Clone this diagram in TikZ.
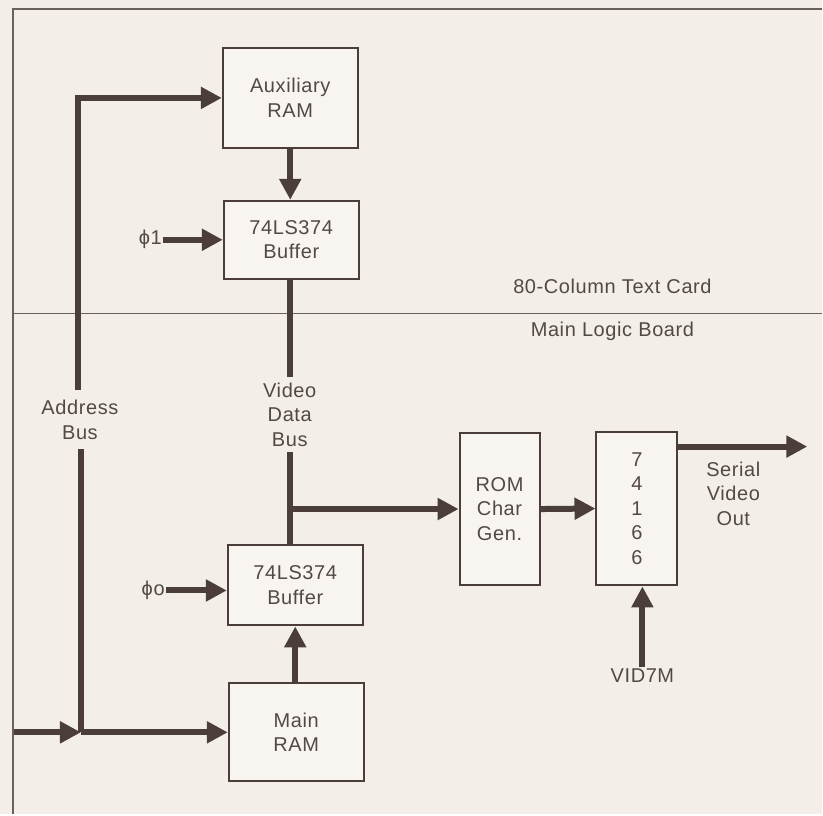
\documentclass[tikz,border=0pt]{standalone}
\usepackage{fontspec}
\setmainfont{Liberation Sans}[LetterSpace=3]
\usepackage{tikz}
\usetikzlibrary{arrows.meta,positioning,calc}
\definecolor{PaperTone}{HTML}{F3EEE7}
\definecolor{BoxTone}{HTML}{F8F5F0}
\definecolor{InkLine}{HTML}{4B3E3A}
\definecolor{InkText}{HTML}{524845}
\definecolor{RuleGray}{HTML}{6A605C}
\tikzset{
  % chip box
  BX/.style={rectangle,draw=InkLine,line width=2pt,fill=BoxTone,
             text=InkText,align=center,inner sep=2pt,
             font=\fontsize{20}{24.5}\selectfont},
  % bus / signal arrow
  bus/.style={-{Triangle[length=21pt,width=21pt]},line width=6pt,draw=InkLine},
  wire/.style={line width=6pt,draw=InkLine},
  % plain labels
  LB/.style={text=InkText,align=center,inner sep=1pt,
             font=\fontsize{20}{24.5}\selectfont},
  rule/.style={line width=1.5pt,draw=RuleGray}
}
\begin{document}
\begin{tikzpicture}[x=1pt,y=-1pt]
  \fill[PaperTone] (0,0) rectangle (823,815);
  % card / board frame
  \draw[rule] (13,815) -- (13,9) -- (823,9);
  \draw[rule] (13,314) -- (823,314);
  \node[LB] (card) at (613,287) {80-Column Text Card};
  \node[LB] (board) at (613,332) {Main Logic Board};
  % chips
  \node[BX,minimum width=135pt,minimum height=100pt] (auxram) at (290.5,98) {Auxiliary\\RAM};
  \node[BX,minimum width=135pt,minimum height=78pt] (bufA) at (291.5,240) {74LS374\\Buffer};
  \node[BX,minimum width=135pt,minimum height=81pt] (bufB) at (295.5,585.5) {74LS374\\Buffer};
  \node[BX,minimum width=135pt,minimum height=98pt] (mainram) at (296.5,733) {Main\\RAM};
  \node[BX,minimum width=80pt,minimum height=153pt] (rom) at (500,509.5) {ROM\\Char\\Gen.};
  \node[BX,minimum width=81pt,minimum height=154pt] (shift) at (637.5,509) {7\\4\\1\\6\\6};
  % labels
  \node[LB,outer sep=9pt] (addr) at (80,420) {Address\\Bus};
  \node[LB,outer sep=5pt] (vdata) at (290,415) {Video\\Data\\Bus};
  \node[LB,anchor=east] (phiA) at (163,240) {ϕ1};
  \node[LB,anchor=east] (phiB) at (166,591) {ϕo};
  \node[LB] (serout) at (734,494) {Serial\\Video\\Out};
  \node[LB] (vid) at (643,676) {VID7M};
  \coordinate (abTop) at (78,98);
  \coordinate (abBot) at (81,733);
  \coordinate (inL) at (14,733);
  \coordinate (vdJoin) at (290,509.5);
  \coordinate (vout) at (808,447);
  % address bus
  \draw[wire] (addr.north -| abTop) -- (abTop) -- ++(-3pt,0);
  \draw[bus] (abTop) -- (auxram.west);
  \draw[wire] (addr.south -| abBot) -- (abBot);
  \draw[bus] (abBot) -- (mainram.west);
  \draw[bus] (inL) -- (abBot);
  % video data path
  \draw[bus] (auxram.south) -- (auxram.south |- bufA.north);
  \draw[wire] (bufA.south -| vdata) -- (vdata.north);
  \draw[wire] (vdata.south) -- (vdata.south |- bufB.north);
  \draw[bus] (mainram.north -| bufB) -- (bufB.south);
  \draw[bus] (vdJoin) -- (rom.west);
  \draw[bus] (rom.east) -- (shift.west);
  \draw[bus] (vout -| shift.east) -- (vout);
  \draw[bus] (vid.north) -- (vid.north |- shift.south);
  % clocks
  \draw[bus] (phiA.east) -- (bufA.west);
  \draw[bus] (phiB.east) -- (phiB.east -| bufB.west);
\end{tikzpicture}
\end{document}
